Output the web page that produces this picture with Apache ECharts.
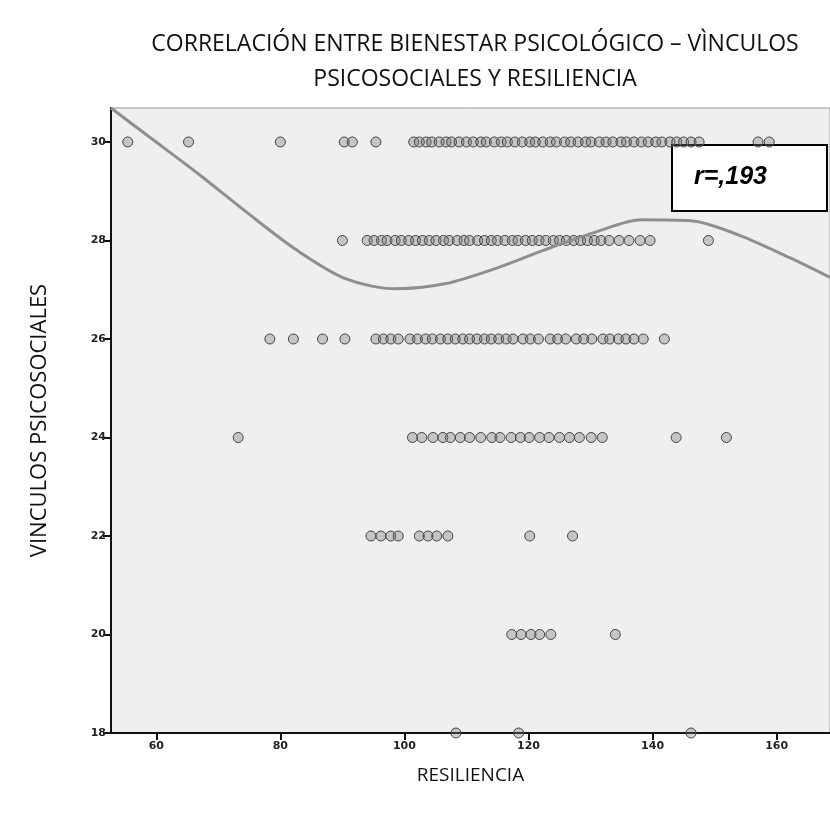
<!DOCTYPE html>
<html>
<head>
<meta charset="utf-8">
<script src="https://cdn.jsdelivr.net/npm/echarts@6/dist/echarts.min.js"></script>
<style>
  html, body { margin: 0; padding: 0; background: #fff; }
  #chart { width: 830px; height: 820px; }
</style>
</head>
<body>
<div id="chart"></div>
<script>
// ticks of both axes
const xTicks = [60, 80, 100, 120, 140, 160];
const yTicks = [18, 20, 22, 24, 26, 28, 30];

// resiliencia values for each row of vinculos psicosociales
const row30 = [55.4, 65.2, 80, 90.3, 91.6, 95.4,
  101.5, 102.4, 103.5, 104.4, 105.6, 106.7, 107.6, 108.8, 110, 111.1, 112.3, 113.2, 114.5,
  115.6, 116.6, 117.8, 119, 120.2, 121.1, 122.3, 123.5, 124.5, 125.8, 126.8, 128, 129.2,
  130.1, 131.4, 132.5, 133.6, 134.9, 135.8, 137, 138.2, 139.3, 140.5, 141.5, 142.8, 143.9,
  145, 146.2, 147.5, 157, 158.8];
const row28 = [90, 94, 95.1, 96.3, 97.2, 98.5, 99.5, 100.7, 101.8, 102.9, 104, 105.1, 106.3,
  107.2, 108.5, 109.6, 110.5, 111.8, 112.9, 114, 115, 116.2, 117.4, 118.3, 119.5, 120.6,
  121.7, 122.8, 124, 125, 126.1, 127.3, 128.4, 129.5, 130.6, 131.7, 133, 134.6, 136.2,
  138, 139.6, 149];
const row26 = [78.3, 82.1, 86.8, 90.4, 95.4, 96.6, 97.8, 99, 100.9, 102.1, 103.4, 104.5,
  105.8, 107, 108.2, 109.4, 110.5, 111.7, 112.9, 114, 115.2, 116.4, 117.5, 119.1, 120.3,
  121.6, 123.5, 124.7, 126, 127.7, 128.9, 130.2, 132, 133.1, 134.5, 135.7, 137, 138.5, 141.9];
const row24 = [73.2, 101.3, 102.8, 104.6, 106.2, 107.4, 109, 110.5, 112.3, 114.1, 115.4,
  117.2, 118.7, 120.1, 121.8, 123.3, 125, 126.6, 128.2, 130.1, 131.9, 143.8, 151.9];
const row22 = [94.6, 96.2, 97.8, 99, 102.4, 103.8, 105.2, 107, 120.2, 127.1];
const row20 = [117.3, 118.8, 120.4, 121.8, 123.6, 134];
const row18 = [108.3, 118.4, 146.2];

// fitted curve
const fitX = [52.7, 58.9, 66.8, 74.8, 82.7, 90.6, 98.6, 106.5, 114.4, 122.4, 130.3, 138.3, 146.2, 154.1, 162.1, 168.6];
const fitY = [30.69, 30.1, 29.35, 28.55, 27.8, 27.22, 27.02, 27.12, 27.42, 27.8, 28.15, 28.42, 28.4, 28.1, 27.65, 27.25];

const rows = [[30, row30], [28, row28], [26, row26], [24, row24], [22, row22], [20, row20], [18, row18]];
const points = [];
rows.forEach(([y, xs]) => xs.forEach(x => points.push([x, y])));

const chart = echarts.init(document.getElementById('chart'));
chart.setOption({
  animation: false,
  backgroundColor: '#ffffff',
  title: {
    text: 'CORRELACIÓN ENTRE BIENESTAR PSICOLÓGICO – VÌNCULOS\nPSICOSOCIALES Y RESILIENCIA',
    left: 470,
    top: 22,
    textAlign: 'center',
    textStyle: {
      fontFamily: 'Open Sans',
      fontSize: 23,
      fontWeight: 'normal',
      color: '#111',
      lineHeight: 35
    }
  },
  grid: {
    left: 111,
    top: 108,
    width: 730,
    bottom: 87,
    show: true,
    backgroundColor: '#efefef',
    borderColor: '#9a9a9a',
    borderWidth: 1
  },
  xAxis: {
    type: 'value',
    min: 52.7,
    max: 168.6,
    name: 'RESILIENCIA',
    nameLocation: 'middle',
    nameGap: 33,
    nameTextStyle: { fontFamily: 'Open Sans', fontSize: 19, color: '#111' },
    axisLine: { lineStyle: { color: '#111', width: 2 } },
    axisTick: { customValues: xTicks, length: 7, lineStyle: { color: '#111', width: 2 } },
    axisLabel: { customValues: xTicks, fontFamily: 'DejaVu Sans', fontSize: 11, fontWeight: 'bold', color: '#222', margin: 8 },
    splitLine: { show: false }
  },
  yAxis: {
    type: 'value',
    min: 18,
    max: 30.69,
    name: 'VINCULOS PSICOSOCIALES',
    nameLocation: 'middle',
    nameGap: 60,
    nameTextStyle: { fontFamily: 'Open Sans', fontSize: 22, color: '#111' },
    axisLine: { show: true, lineStyle: { color: '#111', width: 2 } },
    axisTick: { show: true, customValues: yTicks, length: 8, lineStyle: { color: '#111', width: 2 } },
    axisLabel: { customValues: yTicks, fontFamily: 'DejaVu Sans', fontSize: 11, fontWeight: 'bold', color: '#222', margin: 5 },
    splitLine: { show: false }
  },
  graphic: [{
    type: 'group',
    left: 671,
    top: 144,
    z: 100,
    children: [{
      type: 'rect',
      shape: { x: 0, y: 0, width: 155, height: 66 },
      style: { fill: '#ffffff', stroke: '#000', lineWidth: 2 }
    }, {
      type: 'text',
      x: 22,
      y: 20,
      style: {
        text: 'r=,193',
        font: 'italic bold 25px "Liberation Sans"',
        fill: '#000'
      }
    }]
  }],
  series: [{
    type: 'scatter',
    data: points,
    symbol: 'circle',
    symbolSize: 10,
    itemStyle: {
      color: 'rgba(120,120,120,0.35)',
      borderColor: '#444',
      borderWidth: 1,
      opacity: 1
    },
    z: 2
  }, {
    type: 'line',
    data: fitX.map((x, i) => [x, fitY[i]]),
    smooth: 0.3,
    symbol: 'none',
    lineStyle: { color: '#8f8f8f', width: 3 },
    z: 3
  }]
});
</script>
</body>
</html>
